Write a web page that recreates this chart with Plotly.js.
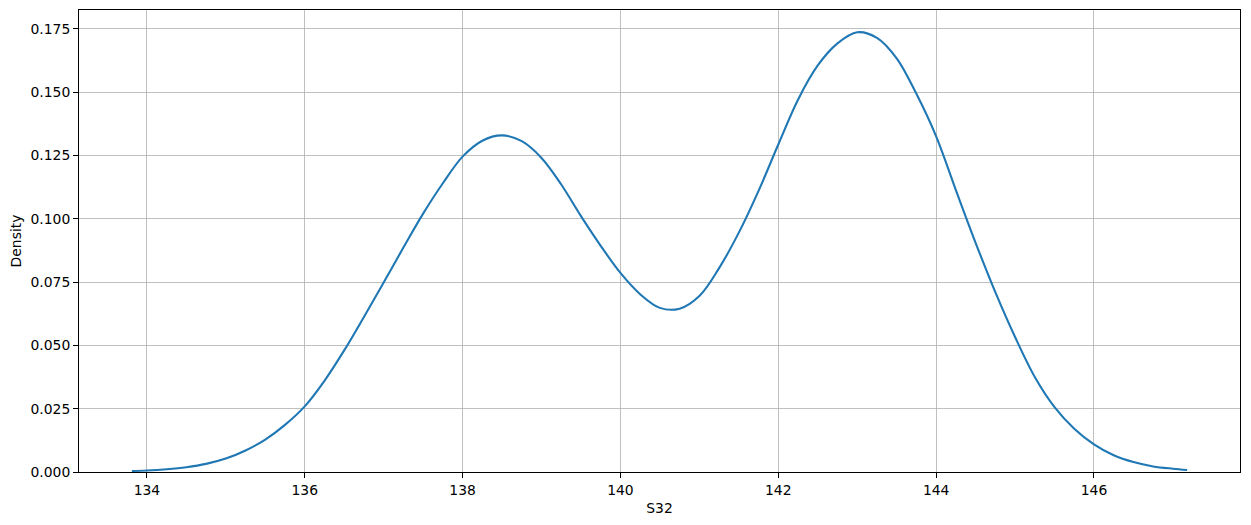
<!DOCTYPE html>
<html>
<head>
<meta charset="utf-8">
<script src="https://cdn.plot.ly/plotly-3.0.1.min.js"></script>
<style>html,body{margin:0;padding:0;background:#fff;}</style>
</head>
<body>
<div id="chart" style="width:1251px;height:525px;"></div>
<script>
const s32 = [133.81, 134.0, 134.25, 134.5, 134.75, 135.0, 135.25, 135.5, 135.75, 136.0,
  136.25, 136.5, 136.75, 137.0, 137.25, 137.5, 137.75, 138.0, 138.25, 138.5,
  138.75, 139.0, 139.25, 139.5, 139.75, 140.0, 140.25, 140.5, 140.75,
  141.0, 141.25, 141.5, 141.75, 142.0, 142.25, 142.5, 142.75, 143.0, 143.25,
  143.5, 143.75, 144.0, 144.25, 144.5, 144.75, 145.0, 145.25, 145.5, 145.75,
  146.0, 146.25, 146.5, 146.75, 147.0, 147.18];
const density = [0.0004, 0.0006, 0.0011, 0.0019, 0.0032, 0.0053, 0.0085, 0.0128, 0.0186, 0.0259,
  0.0360, 0.0480, 0.0612, 0.0748, 0.0886, 0.1020, 0.1140, 0.1245, 0.1308, 0.1329,
  0.1306, 0.1240, 0.1135, 0.1010, 0.0893, 0.0786, 0.0702, 0.0648, 0.0645,
  0.0695, 0.0805, 0.0945, 0.1110, 0.1293, 0.1470, 0.1605, 0.1692, 0.1736, 0.1714,
  0.1633, 0.1493, 0.1325, 0.1113, 0.0905, 0.0710, 0.0533, 0.0375, 0.0256, 0.0171,
  0.0109, 0.0066, 0.0039, 0.0022, 0.0013, 0.0008];
const xTicks = [134, 136, 138, 140, 142, 144, 146];
const yTicks = [0, 0.025, 0.05, 0.075, 0.1, 0.125, 0.15, 0.175];
const yTickLabels = ["0.000", "0.025", "0.050", "0.075", "0.100", "0.125", "0.150", "0.175"];

const font = {family: "DejaVu Sans", size: 13.9, color: "#000"};
const trace = {
  x: s32, y: density, type: "scatter", mode: "lines",
  line: {color: "#1f77b4", width: 2.08, shape: "spline", smoothing: 1},
  hoverinfo: "x+y"
};
const axisCommon = {
  showgrid: true, gridcolor: "#b0b0b0", gridwidth: 0.8,
  showline: true, linecolor: "#000", linewidth: 1, mirror: true,
  ticks: "outside", ticklen: 4.9, tickwidth: 1, tickcolor: "#000",
  zeroline: false, tickfont: font
};
const layout = {
  width: 1251, height: 525,
  margin: {l: 79, r: 11, t: 10, b: 53},
  paper_bgcolor: "#fff", plot_bgcolor: "#fff",
  showlegend: false,
  font: font,
  xaxis: Object.assign({}, axisCommon, {
    range: [133.14, 147.85], tickmode: "array", tickvals: xTicks,
    ticktext: xTicks.map(String),
    title: {text: "S32", font: font, standoff: 6}
  }),
  yaxis: Object.assign({}, axisCommon, {
    range: [0, 0.1824], tickmode: "array", tickvals: yTicks, ticktext: yTickLabels,
    title: {text: "Density", font: font, standoff: 5}
  })
};
Plotly.newPlot("chart", [trace], layout, {displayModeBar: false, staticPlot: true});
</script>
</body>
</html>
